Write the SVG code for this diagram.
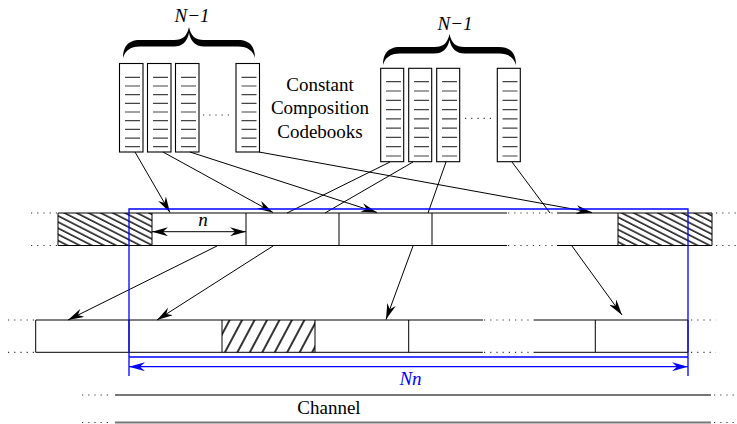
<svg xmlns="http://www.w3.org/2000/svg" width="737" height="424" viewBox="0 0 737 424">
<style>
.ln{stroke:#000;stroke-width:1;fill:none}
.cb{fill:#fff;stroke:#000;stroke-width:1.1}
.cbl{stroke:#444;stroke-width:1.2;fill:none}
.dot{stroke:#333;stroke-width:1.2;stroke-dasharray:1.2 5;fill:none}
.arr{stroke:#000;stroke-width:1;fill:none;marker-end:url(#ah)}
.blue{stroke:#0000ff;stroke-width:1.3;fill:none}
.chan{stroke:#777;stroke-width:1.8;fill:none}
.t{font-family:'Liberation Serif','Times New Roman',serif;font-size:19px;fill:#000;text-anchor:middle}
.ti{font-family:'Liberation Serif','Times New Roman',serif;font-size:19px;font-style:italic;fill:#000;text-anchor:middle}
.brace{fill:#000}
</style>
<defs>
<marker id="ah" viewBox="0 0 16 9" refX="16" refY="4.5" markerWidth="16" markerHeight="9" markerUnits="userSpaceOnUse" orient="auto-start-reverse">
<path d="M0,0 L16,4.5 L0,9 L5,4.5 Z" fill="#000"/>
</marker>
<marker id="bh" viewBox="0 0 16 9" refX="16" refY="4.5" markerWidth="16" markerHeight="9" markerUnits="userSpaceOnUse" orient="auto-start-reverse">
<path d="M0,0 L16,4.5 L0,9 L5,4.5 Z" fill="#0000ff"/>
</marker>
<pattern id="hatchA" patternUnits="userSpaceOnUse" width="12" height="5.5" patternTransform="rotate(27)">
<line x1="0" y1="1" x2="12" y2="1" stroke="#000" stroke-width="1.4"/>
</pattern>
<pattern id="hatchB" patternUnits="userSpaceOnUse" width="12" height="11" patternTransform="rotate(-62)">
<line x1="0" y1="1" x2="12" y2="1" stroke="#000" stroke-width="1.6"/>
</pattern>
</defs>
<rect width="737" height="424" fill="#fff"/>

<g id="brace-left">
<path class="brace" d="M123,58 C123,48 127,40 140,40 L174,40 C183,40 187,36 189,27 C191,36 195,40 204,40 L238,40 C251,40 255,48 255,58 C253,51 248,46.5 238,46.5 L204,46.5 C196,46.5 191,42 189,33 C187,42 182,46.5 174,46.5 L140,46.5 C130,46.5 125,51 123,58 Z"/>
<text class="ti" x="192" y="22">N−1</text>
</g>
<g id="brace-right">
<path class="brace" d="M383,65 C383,55 387,47 400,47 L434.5,47 C443.5,47 447.5,43 449.5,34 C451.5,43 455.5,47 464.5,47 L499,47 C512,47 516,55 516,65 C514,58 509,53.5 499,53.5 L464.5,53.5 C456.5,53.5 451.5,49 449.5,40 C447.5,49 442.5,53.5 434.5,53.5 L400,53.5 C390,53.5 385,58 383,65 Z"/>
<text class="ti" x="455" y="30">N−1</text>
</g>

<g id="codebooks-left">
<g id="cbL1"><rect class="cb" x="119.5" y="63.5" width="23.5" height="88.5"/><path class="cbl" d="M125,77.3H140M125,86H140M125,94.7H140M125,103.3H140M125,112H140M125,120.7H140M125,129.4H140M125,138.1H140M125,146.7H140"/></g>
<g id="cbL2"><rect class="cb" x="147.5" y="63.5" width="23.5" height="88.5"/><path class="cbl" d="M153,77.3H168M153,86H168M153,94.7H168M153,103.3H168M153,112H168M153,120.7H168M153,129.4H168M153,138.1H168M153,146.7H168"/></g>
<g id="cbL3"><rect class="cb" x="175.5" y="63.5" width="23.5" height="88.5"/><path class="cbl" d="M181,77.3H196M181,86H196M181,94.7H196M181,103.3H196M181,112H196M181,120.7H196M181,129.4H196M181,138.1H196M181,146.7H196"/></g>
<g id="cbL4"><rect class="cb" x="236" y="63.5" width="23.5" height="88.5"/><path class="cbl" d="M241.5,77.3H256.5M241.5,86H256.5M241.5,94.7H256.5M241.5,103.3H256.5M241.5,112H256.5M241.5,120.7H256.5M241.5,129.4H256.5M241.5,138.1H256.5M241.5,146.7H256.5"/></g>
<path class="dot" d="M203,115H231"/>
</g>

<g id="codebooks-right">
<g id="cbR1"><rect class="cb" x="380.7" y="68.3" width="23" height="93.4"/><path class="cbl" d="M386,81.7H401M386,91H401M386,100.3H401M386,109.6H401M386,118.9H401M386,128.2H401M386,137.4H401M386,146.7H401M386,156H401"/></g>
<g id="cbR2"><rect class="cb" x="408.7" y="68.3" width="23" height="93.4"/><path class="cbl" d="M414,81.7H429M414,91H429M414,100.3H429M414,109.6H429M414,118.9H429M414,128.2H429M414,137.4H429M414,146.7H429M414,156H429"/></g>
<g id="cbR3"><rect class="cb" x="436.7" y="68.3" width="23" height="93.4"/><path class="cbl" d="M442,81.7H457M442,91H457M442,100.3H457M442,109.6H457M442,118.9H457M442,128.2H457M442,137.4H457M442,146.7H457M442,156H457"/></g>
<g id="cbR4"><rect class="cb" x="497.3" y="68.3" width="23" height="93.4"/><path class="cbl" d="M502.5,81.7H517.5M502.5,91H517.5M502.5,100.3H517.5M502.5,109.6H517.5M502.5,118.9H517.5M502.5,128.2H517.5M502.5,137.4H517.5M502.5,146.7H517.5M502.5,156H517.5"/></g>
<path class="dot" d="M465,118.3H492"/>
</g>

<g id="label-codebooks">
<text class="t" x="320" y="91">Constant</text>
<text class="t" x="320" y="114">Composition</text>
<text class="t" x="320" y="137.5">Codebooks</text>
</g>

<g id="row-middle">
<rect x="58" y="213" width="94" height="32.5" fill="url(#hatchA)"/>
<rect x="618" y="213" width="94" height="32.5" fill="url(#hatchA)"/>
<path class="ln" d="M58,213H507M557,213H712M58,245.5H507M557,245.5H712M58,213V245.5M152,213V245.5M246,213V245.5M339,213V245.5M432,213V245.5M618,213V245.5M712,213V245.5"/>
<path class="dot" d="M31,213H58M31,245.5H58M508,213H557M508,245.5H557M716,213H737M716,245.5H737"/>
<path class="ln" d="M152,231.7H246" style="marker-start:url(#ah);marker-end:url(#ah)"/>
<text class="ti" x="203" y="226">n</text>
</g>

<g id="row-bottom">
<rect x="222" y="320" width="93" height="32.3" fill="url(#hatchB)"/>
<path class="ln" d="M35.7,320H483M534,320H688M35.7,352.3H483M534,352.3H688M35.7,320V352.3M129,320V352.3M222,320V352.3M315,320V352.3M408.7,320V352.3M595.3,320V352.3M688,320V352.3"/>
<path class="dot" d="M8,320H35M8,352.3H35M484,320H534M484,352.3H534M691,320H716M691,352.3H716"/>
</g>

<g id="connectors">
<path class="arr" d="M135,152L170,212.5"/>
<path class="arr" d="M163,152L273,212.5"/>
<path class="arr" d="M190,152L377,212.5"/>
<path class="arr" d="M259,152L592,212.5"/>
<path class="ln" d="M390,162L287,213M413,162L325,213M446,162L428,213M512,162L550,213"/>
<path class="arr" d="M217,246L68,320"/>
<path class="arr" d="M273,246L157,320"/>
<path class="arr" d="M413,246L386,319.5"/>
<path class="arr" d="M572,246L622,315"/>
</g>

<g id="block-Nn">
<path class="blue" d="M129,376V209H688V376M129,357H688"/>
<path class="blue" d="M129,366.7H688" style="marker-start:url(#bh);marker-end:url(#bh)"/>
<text class="ti" x="410.5" y="385" style="fill:#0000ff">Nn</text>
</g>

<g id="channel">
<path class="chan" d="M115,395H711M115,422.5H711"/>
<path class="dot" d="M82,395H112M82,422.5H112M714,395H737M714,422.5H737"/>
<text class="t" x="329" y="413.5">Channel</text>
</g>
</svg>
